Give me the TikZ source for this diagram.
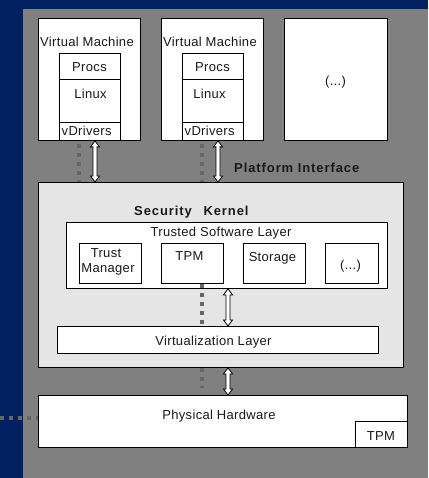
\documentclass[tikz,border=0pt]{standalone}
\usepackage{fontspec}
\setmainfont{Liberation Sans}[LetterSpace=2.5]
\newfontfamily\spacedfont{Liberation Sans}[LetterSpace=7]
\usetikzlibrary{calc}
\definecolor{bgblue}{HTML}{00205F}
\definecolor{panel}{HTML}{808080}
\definecolor{kern}{HTML}{E5E5E5}
\definecolor{dotc}{HTML}{666666}
\newcommand{\hdarrow}[2]{%
  \draw[harrow] let \p1=(#1), \p2=(#2) in
    (\x1,\y1) -- ++(4.5,6) -- ++(-2.5,0) -- (\x1+2pt,\y2+6pt) -- ++(2.5,0)
    -- (\x2,\y2) -- ++(-4.5,-6) -- ++(2.5,0) -- (\x1-2pt,\y1-6pt) -- ++(-2.5,0) -- cycle;}
\begin{document}
\begin{tikzpicture}[x=1pt,y=-1pt,
  box/.style={draw=black, fill=white, line width=0.9pt, inner sep=0pt, anchor=north west},
  lbl/.style={font=\fontsize{13}{15}\selectfont, inner sep=0pt, text=black!90},
  hdr/.style={font=\fontsize{13}{15}\selectfont\spacedfont\bfseries, inner sep=0pt, text=black!90},
  dots/.style={draw=dotc, line width=3.6pt, dash pattern=on 3.6pt off 5.4pt},
  harrow/.style={draw=black, fill=white, line width=0.8pt, line join=miter}]
\useasboundingbox (0,0) rectangle (428,478);
\fill[bgblue] (0,0) rectangle (428,478);
\fill[panel] (23,9) rectangle (428,478);

% virtual machines
\node[box, minimum width=102, minimum height=122] (vm1) at (38,18) {};
\node[box, minimum width=61, minimum height=26] (procs1) at (59,53) {};
\node[box, minimum width=61, minimum height=43] (linux1) at (59,79) {};
\node[box, minimum width=61, minimum height=18] (vdrv1) at (59,122) {};
\node[lbl, anchor=base west] (vmt1) at (40,46.5) {Virtual Machine};
\node[lbl, anchor=base] (pt1) at (89.5,71.7) {Procs};
\node[lbl, anchor=base] (lt1) at (90.5,99) {Linux};
\node[lbl, anchor=base west] (dt1) at (61.5,135.7) {vDrivers};

\node[box, minimum width=102, minimum height=122] (vm2) at (161,18) {};
\node[box, minimum width=61, minimum height=26] (procs2) at (182,53) {};
\node[box, minimum width=61, minimum height=43] (linux2) at (182,79) {};
\node[box, minimum width=61, minimum height=18] (vdrv2) at (182,122) {};
\node[lbl, anchor=base west] (vmt2) at (163,46.5) {Virtual Machine};
\node[lbl, anchor=base] (pt2) at (212.5,71.7) {Procs};
\node[lbl, anchor=base] (lt2) at (209.5,99) {Linux};
\node[lbl, anchor=base west] (dt2) at (184.5,135.7) {vDrivers};

\node[box, minimum width=103, minimum height=122] (vm3) at (284,18) {};
\node[lbl, anchor=base] (et3) at (335.5,86) {(...)};

\node[hdr, anchor=base west] (pi) at (234,172) {Platform Interface};

% security kernel
\node[box, fill=kern, minimum width=365, minimum height=185] (kernel) at (38,182) {};
\node[hdr, anchor=base west] (sk) at (134,215) {Security\hspace{0.9em}Kernel};
\node[box, minimum width=321, minimum height=66] (tsl) at (66,222) {};
\node[lbl, anchor=base] (tslt) at (221,236.7) {Trusted Software Layer};
\node[box, minimum width=62, minimum height=40] (tm) at (79,243) {};
\node[box, minimum width=62, minimum height=40] (tpm) at (161,243) {};
\node[box, minimum width=62, minimum height=40] (stor) at (243,243) {};
\node[box, minimum width=53, minimum height=40] (etc) at (325,243) {};
\node[lbl, anchor=base] (tmt1) at (106,257.7) {Trust};
\node[lbl, anchor=base] (tmt2) at (108,272) {Manager};
\node[lbl, anchor=base] (tpmt) at (189.5,260.7) {TPM};
\node[lbl, anchor=base] (stt) at (272.5,261) {Storage};
\node[lbl, anchor=base] (ett) at (350.5,269) {(...)};
\node[box, minimum width=321, minimum height=27] (virt) at (57,326) {};
\node[lbl, anchor=base] (virtt) at (213.5,345) {Virtualization Layer};

% hardware
\node[box, minimum width=369, minimum height=52] (hw) at (38,395) {};
\node[lbl, anchor=base] (hwt) at (219,419) {Physical Hardware};
\node[box, minimum width=52, minimum height=26] (hwtpm) at (355,421) {};
\node[lbl, anchor=base] (hwtpmt) at (380.8,440) {TPM};

% dotted links
\coordinate (d1) at (79,0);
\coordinate (d2) at (202,0);
\coordinate (dend) at (202,388);
\coordinate (ld) at (0,418);
\draw[dots, shorten <=3.5pt] (vm1.south -| d1) -- (kernel.north -| d1);
\draw[dots, shorten <=3.5pt] (vm2.south -| d2) -- (kernel.north -| d2);
\draw[dots] (tpm.south -| d2) -- (virt.north -| d2);
\draw[dots, dash phase=-0.5pt] (kernel.south -| d2) -- (dend);
\draw[dots] (ld) -- (ld -| hw.west);

% interface arrows
\coordinate (a1) at (95,0);
\coordinate (a2) at (218,0);
\coordinate (a3) at (228,0);
\hdarrow{vm1.south -| a1}{kernel.north -| a1}
\hdarrow{vm2.south -| a2}{kernel.north -| a2}
\hdarrow{tsl.south -| a3}{virt.north -| a3}
\hdarrow{kernel.south -| a3}{hw.north -| a3}
\end{tikzpicture}
\end{document}
